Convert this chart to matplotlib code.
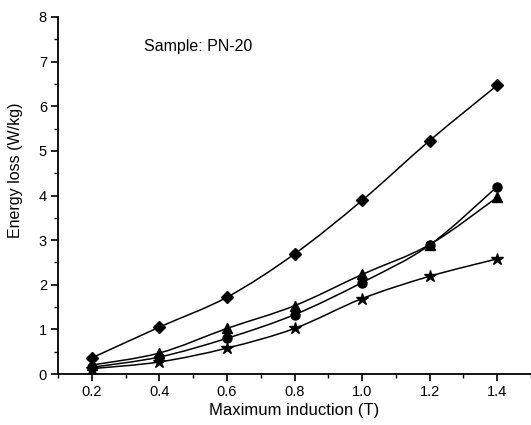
import numpy as np
import matplotlib
matplotlib.use('Agg')
import matplotlib.pyplot as plt
from matplotlib.path import Path
from matplotlib.patches import PathPatch
from matplotlib.ticker import MultipleLocator

plt.rcParams['font.family'] = ['Liberation Sans', 'DejaVu Sans']

# Energy loss vs maximum induction, sample PN-20
induction = [0.2, 0.4, 0.6, 0.8, 1.0, 1.2, 1.4]
loss_diamond = [0.36, 1.05, 1.72, 2.69, 3.89, 5.23, 6.47]
loss_triangle = [0.20, 0.47, 1.02, 1.53, 2.23, 2.90, 3.96]
loss_circle = [0.15, 0.38, 0.80, 1.33, 2.05, 2.89, 4.20]
loss_star = [0.12, 0.27, 0.58, 1.02, 1.69, 2.19, 2.58]


def smooth_path(x, y):
    # Catmull-Rom through the points, drawn as cubic Bezier segments
    x = np.asarray(x, float)
    y = np.asarray(y, float)
    pts = np.column_stack([x, y])
    verts = [pts[0]]
    codes = [Path.MOVETO]
    n = len(pts)
    for i in range(n - 1):
        p0 = pts[i - 1] if i > 0 else pts[i]
        p1 = pts[i]
        p2 = pts[i + 1]
        p3 = pts[i + 2] if i + 2 < n else pts[i + 1]
        c1 = p1 + (p2 - p0) / 6.0
        c2 = p2 - (p3 - p1) / 6.0
        verts += [c1, c2, p2]
        codes += [Path.CURVE4] * 3
    return Path(verts, codes)


fig = plt.figure(figsize=(5.31, 4.25), dpi=100)
ax = fig.add_axes([58 / 531, 0.12, 1 - 58 / 531, 0.84])

series = [
    (loss_diamond, 'D', 6.5),
    (loss_triangle, '^', 7.5),
    (loss_circle, 'o', 6.5),
    (loss_star, '*', 9),
]
for vals, mk, ms in series:
    ax.add_patch(PathPatch(smooth_path(induction, vals), facecolor='none',
                           edgecolor='black', lw=1.1, zorder=2))
    ax.plot(induction, vals, linestyle='none', marker=mk, ms=ms,
            color='black', zorder=3)

ax.set_xlim(0.1, 1.5)
ax.set_ylim(0, 8)
ax.xaxis.set_major_locator(MultipleLocator(0.2))
ax.xaxis.set_minor_locator(MultipleLocator(0.1))
ax.yaxis.set_major_locator(MultipleLocator(1))
ax.yaxis.set_minor_locator(MultipleLocator(0.5))
ax.set_xticks([0.2, 0.4, 0.6, 0.8, 1.0, 1.2, 1.4])
ax.set_xticklabels(['0.2', '0.4', '0.6', '0.8', '1.0', '1.2', '1.4'])

for s in ['top', 'right']:
    ax.spines[s].set_visible(False)
ax.spines['left'].set_linewidth(1.3)
ax.spines['bottom'].set_linewidth(1.3)
ax.tick_params(which='major', direction='out', length=5, width=1.2, labelsize=10.5, pad=3)
ax.tick_params(which='minor', direction='out', length=3, width=1.0)

ax.set_xlabel('Maximum induction (T)', fontsize=12, labelpad=3)
ax.set_ylabel('Energy loss (W/kg)', fontsize=11.5)
ax.yaxis.set_label_coords(-0.075, 0.57)

ax.text(0.355, 7.35, 'Sample: PN-20', fontsize=11.5, va='center', ha='left')

fig.savefig('out.png', dpi=100)
